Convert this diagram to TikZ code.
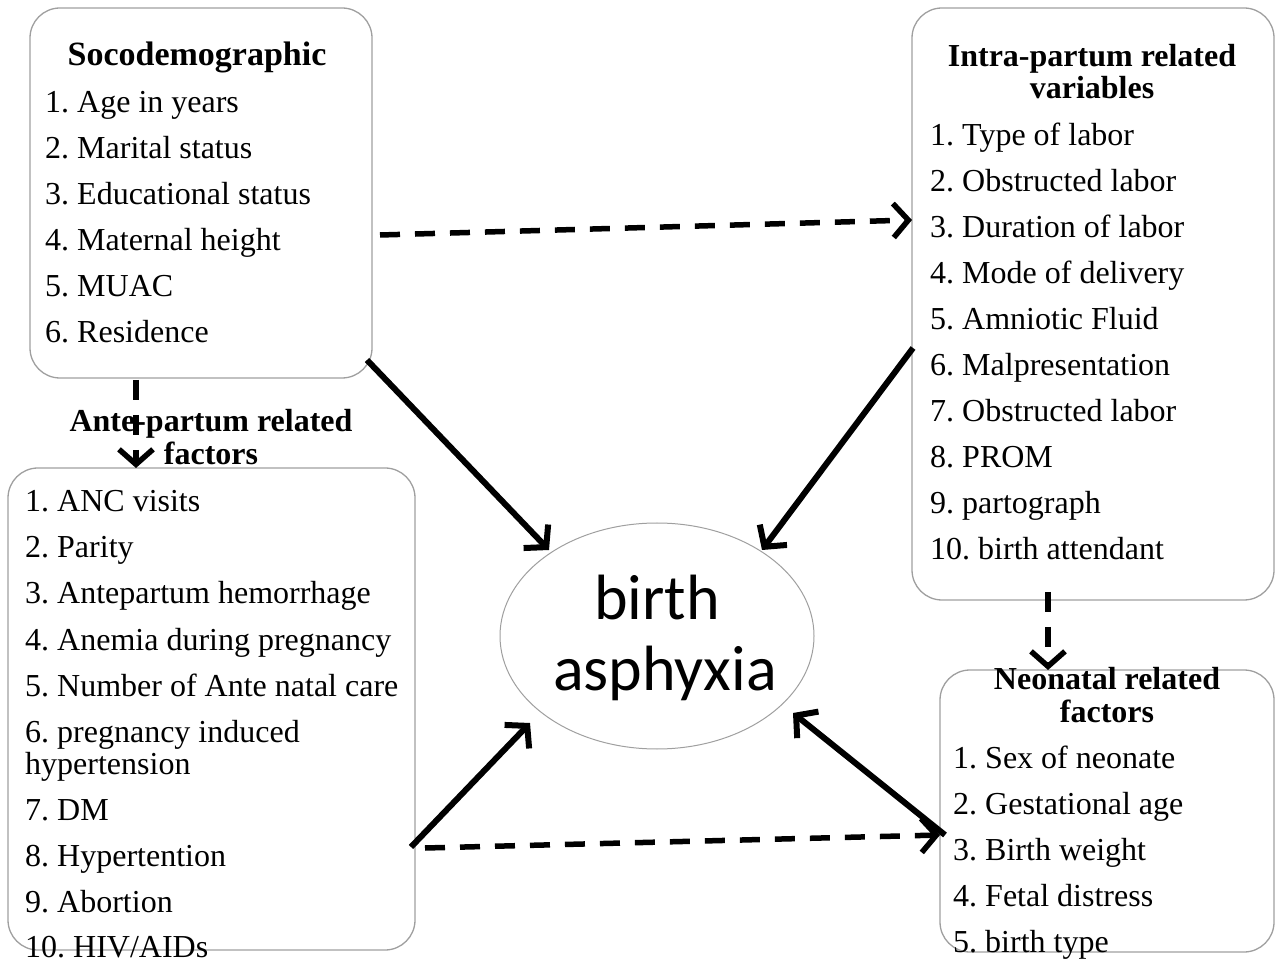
\documentclass[tikz,border=0pt]{standalone}
\usepackage{fontspec}
\setmainfont{Liberation Serif}
\newfontfamily\calfont{Carlito}
\usetikzlibrary{arrows.meta,shapes.geometric}
\frenchspacing
\begin{document}
\begin{tikzpicture}[x=1pt,y=1pt,
  box/.style={draw=gray!75,line width=1.3pt,rounded corners=30pt},
  item/.style={anchor=base west,inner sep=0pt,font=\fontsize{32}{36}\selectfont},
  ttl/.style={anchor=base,inner sep=0pt,font=\fontsize{32}{34}\selectfont\bfseries},
  big/.style={anchor=base,inner sep=0pt,font=\calfont\fontsize{64}{70}\selectfont},
  sol/.style={line width=6pt,-{Straight Barb[length=15pt,width=34pt]}},
  dsh/.style={line width=5.5pt,dash pattern=on 20pt off 15pt,-{Straight Barb[length=15pt,width=34pt]}}]
\useasboundingbox (0,0) rectangle (1282,962);
% boxes
\draw[box] (30,584) rectangle (372,954);
\draw[box] (912,362) rectangle (1274,954);
\draw[box] (8,12) rectangle (415,494);
\draw[box] (940,10) rectangle (1274,292);
\node[draw=gray!75,line width=1pt,ellipse,minimum width=314pt,minimum height=226pt,inner sep=0pt] (ell) at (657,326) {};
\node[big] (e1) at (657,342) {birth};
\node[big] (e2) at (665,272) {asphyxia};
% socio
\node[ttl,font=\fontsize{34}{36}\selectfont\bfseries] (st) at (197,896) {Socodemographic};
\node[item] (s1) at (45,849) {1. Age in years};
\node[item] (s2) at (45,803) {2. Marital status};
\node[item] (s3) at (45,757) {3. Educational status};
\node[item] (s4) at (45,711) {4. Maternal height};
\node[item] (s5) at (45,665) {5. MUAC};
\node[item] (s6) at (45,619) {6. Residence};
% intra
\node[ttl] (it1) at (1092,895) {Intra-partum related};
\node[ttl] (it2) at (1092,863) {variables};
\node[item] (i1) at (930,816) {1. Type of labor};
\node[item] (i2) at (930,770) {2. Obstructed labor};
\node[item] (i3) at (930,724) {3. Duration of labor};
\node[item] (i4) at (930,678) {4. Mode of delivery};
\node[item] (i5) at (930,632) {5. Amniotic Fluid};
\node[item] (i6) at (930,586) {6. Malpresentation};
\node[item] (i7) at (930,540) {7. Obstructed labor};
\node[item] (i8) at (930,494) {8. PROM};
\node[item] (i9) at (930,448) {9. partograph};
\node[item] (i10) at (930,402) {10. birth attendant};
% ante
\node[ttl] (at1) at (211,530) {Ante-partum related};
\node[ttl] (at2) at (211,497) {factors};
\node[item] (a1) at (25,450) {1. ANC visits};
\node[item] (a2) at (25,404) {2. Parity};
\node[item] (a3) at (25,358) {3. Antepartum hemorrhage};
\node[item] (a4) at (25,312) {4. Anemia during pregnancy};
\node[item] (a5) at (25,266) {5. Number of Ante natal care};
\node[item] (a6) at (25,220) {6. pregnancy induced};
\node[item] (a6b) at (25,188) {hypertension};
\node[item] (a7) at (25,142) {7. DM};
\node[item] (a8) at (25,96) {8. Hypertention};
\node[item] (a9) at (25,50) {9. Abortion};
\node[item] (a10) at (25,5) {10. HIV/AIDs};
% neonatal
\node[ttl] (nt1) at (1107,273) {Neonatal related};
\node[ttl] (nt2) at (1107,240) {factors};
\node[item] (n1) at (953,194) {1. Sex of neonate};
\node[item] (n2) at (953,148) {2. Gestational age};
\node[item] (n3) at (953,102) {3. Birth weight};
\node[item] (n4) at (953,56) {4. Fetal distress};
\node[item] (n5) at (953,10) {5. birth type};
% connector end points
\coordinate (sR) at (380,727);
\coordinate (iL) at (912,742);
\coordinate (sB) at (136,582);
\coordinate (aT) at (136,494);
\coordinate (sC) at (367,602);
\coordinate (eA) at (549,412);
\coordinate (iC) at (913,614);
\coordinate (eB) at (762,412);
\coordinate (aC) at (411,115);
\coordinate (eC) at (530,239);
\coordinate (nC) at (945,127);
\coordinate (eD) at (793,249);
\coordinate (aR) at (425,114);
\coordinate (nL) at (940,127);
\coordinate (iB) at (1048,370);
\coordinate (nT) at (1048,292);
% connectors
\draw[dsh] (sR) -- (iL);
\draw[dsh] (sB) -- (aT);
\draw[sol] (sC) -- (eA);
\draw[sol] (iC) -- (eB);
\draw[sol] (aC) -- (eC);
\draw[sol] (nC) -- (eD);
\draw[dsh] (aR) -- (nL);
\draw[dsh] (iB) -- (nT);
\end{tikzpicture}
\end{document}
